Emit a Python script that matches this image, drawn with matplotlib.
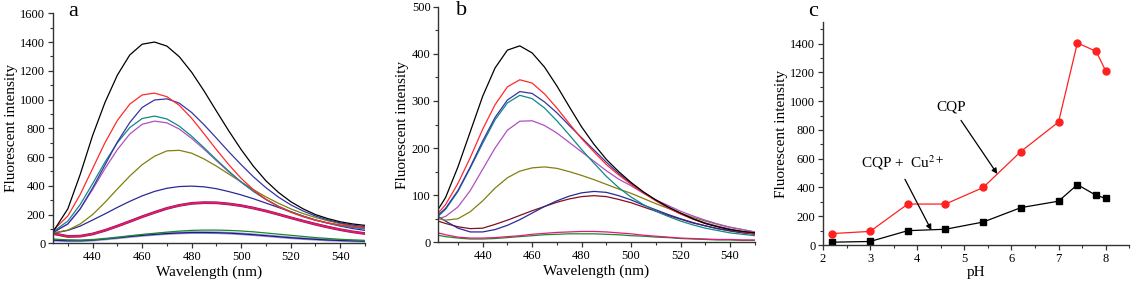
import numpy as np
import matplotlib
matplotlib.use('Agg')
import matplotlib.pyplot as plt
from matplotlib.ticker import MultipleLocator

plt.rcParams['font.family'] = ['Liberation Serif', 'DejaVu Serif']
plt.rcParams['mathtext.fontset'] = 'stix'

# ---- panel a: emission spectra of CQP at different pH
wl_a = [424] + list(range(430, 551, 5))
a_black = [80, 240, 480, 750, 980, 1170, 1310, 1385, 1400, 1372, 1298, 1190, 1060, 920, 782, 652, 535, 435, 355, 290, 240, 200, 172, 150, 135, 125]
a_red = [90, 190, 340, 520, 700, 855, 968, 1032, 1045, 1020, 960, 870, 762, 652, 547, 452, 372, 306, 256, 216, 185, 160, 142, 128, 118, 110]
a_blue = [75, 135, 240, 385, 545, 705, 840, 945, 997, 1005, 975, 910, 825, 732, 637, 547, 462, 387, 322, 268, 225, 190, 163, 142, 127, 115]
a_teal = [80, 155, 270, 415, 565, 700, 805, 868, 885, 865, 815, 745, 665, 582, 502, 427, 362, 306, 258, 220, 188, 162, 142, 125, 112, 102]
a_magenta = [75, 135, 240, 375, 520, 652, 760, 828, 850, 838, 795, 730, 655, 575, 497, 425, 360, 305, 258, 220, 188, 162, 141, 124, 110, 100]
a_olive = [72, 92, 135, 200, 285, 378, 468, 547, 606, 643, 647, 627, 587, 537, 482, 427, 373, 323, 279, 240, 207, 180, 157, 137, 120, 105]
a_blue2 = [70, 90, 120, 162, 205, 250, 292, 330, 361, 383, 395, 398, 393, 380, 360, 337, 310, 280, 250, 220, 190, 163, 140, 120, 103, 90]
a_pink = [68, 48, 50, 65, 90, 120, 152, 185, 215, 243, 264, 278, 283, 282, 274, 262, 245, 225, 202, 178, 155, 133, 113, 95, 80, 68]
a_green = [30, 24, 22, 25, 32, 42, 52, 62, 70, 78, 85, 90, 92, 92, 90, 86, 80, 72, 64, 56, 48, 40, 34, 28, 24, 20]
a_navy = [22, 18, 18, 22, 30, 38, 47, 55, 62, 68, 72, 75, 75, 74, 71, 66, 60, 53, 46, 39, 33, 28, 23, 20, 17, 15]

# ---- panel b: emission spectra of CQP + Cu2+ at different pH
wl_b = [422] + list(range(425, 551, 5))
b_black = [70, 95, 160, 235, 310, 370, 408, 417, 402, 372, 332, 288, 245, 208, 176, 150, 127, 107, 90, 75, 62, 50, 40, 33, 27, 23, 20]
b_red = [62, 80, 125, 180, 240, 292, 330, 345, 338, 315, 285, 252, 220, 192, 165, 143, 123, 105, 88, 73, 60, 49, 40, 33, 27, 22, 18]
b_blue = [58, 72, 110, 160, 215, 265, 302, 320, 316, 298, 275, 248, 222, 196, 170, 146, 125, 106, 89, 74, 61, 50, 41, 34, 28, 23, 20]
b_teal = [55, 70, 108, 158, 210, 260, 296, 312, 305, 285, 258, 228, 197, 168, 140, 116, 96, 80, 66, 55, 45, 37, 30, 25, 20, 17, 14]
b_magenta = [50, 55, 75, 110, 155, 200, 238, 257, 258, 248, 232, 212, 192, 172, 152, 134, 120, 104, 90, 78, 66, 56, 47, 39, 32, 27, 22]
b_olive = [50, 47, 50, 65, 88, 115, 137, 151, 158, 160, 157, 150, 142, 133, 123, 113, 104, 93, 82, 72, 62, 53, 45, 38, 32, 27, 22]
b_blue2 = [55, 45, 30, 22, 22, 27, 36, 48, 62, 76, 88, 98, 105, 108, 106, 99, 90, 79, 69, 59, 50, 42, 35, 29, 25, 21, 18]
b_darkred = [45, 40, 33, 29, 30, 38, 47, 57, 67, 76, 85, 92, 97, 99, 97, 91, 84, 75, 66, 57, 49, 41, 35, 29, 24, 20, 17]
b_pink = [20, 16, 11, 9, 9, 10, 12, 14, 17, 19, 21, 22, 23, 23, 22, 20, 18, 15, 13, 11, 9, 8, 7, 6, 6, 5, 5]
b_green = [15, 12, 9, 7, 7, 8, 10, 12, 14, 16, 17, 18, 18, 18, 17, 16, 14, 13, 11, 10, 8, 7, 6, 5, 5, 4, 4]

# ---- panel c: intensity vs pH
ph = [2.2, 3.0, 3.8, 4.6, 5.4, 6.2, 7.0, 7.4, 7.8, 8.0]
cqp = [80, 95, 285, 285, 400, 650, 855, 1405, 1345, 1210]
cqp_cu = [20, 25, 100, 110, 160, 260, 305, 420, 345, 325]

fig = plt.figure(figsize=(11.47, 2.89), dpi=100)
ax_a = fig.add_axes([0.0462, 0.158, 0.272, 0.796])
ax_b = fig.add_axes([0.382, 0.1616, 0.276, 0.815])
ax_c = fig.add_axes([0.7175, 0.152, 0.267, 0.772])

lw = 0.9
# faint halos under the doubled curves
ax_a.plot(wl_a, a_navy, color='#a098dc', lw=2.0)
ax_a.plot(wl_a, a_pink, color='#8a1840', lw=2.0)
ax_a.plot(wl_a, a_navy, color='#1c1c80', lw=lw)
ax_a.plot(wl_a, a_green, color='#1a8a2a', lw=lw)
ax_a.plot(wl_a, a_pink, color='#e8187a', lw=1.2)
ax_a.plot(wl_a, a_blue2, color='#2a2a9a', lw=lw)
ax_a.plot(wl_a, a_olive, color='#808010', lw=lw)
ax_a.plot(wl_a, a_magenta, color='#b050c0', lw=lw)
ax_a.plot(wl_a, a_teal, color='#108888', lw=lw)
ax_a.plot(wl_a, a_blue, color='#3535a5', lw=lw)
ax_a.plot(wl_a, a_red, color='#ff2a2a', lw=lw)
ax_a.plot(wl_a, a_black, color='black', lw=lw)

ax_b.plot(wl_b, b_green, color='#1a8a2a', lw=lw)
ax_b.plot(wl_b, b_pink, color='#e8187a', lw=lw)
ax_b.plot(wl_b, b_darkred, color='#801020', lw=lw)
ax_b.plot(wl_b, b_blue2, color='#2a2a9a', lw=lw)
ax_b.plot(wl_b, b_olive, color='#808010', lw=lw)
ax_b.plot(wl_b, b_magenta, color='#b050c0', lw=lw)
ax_b.plot(wl_b, b_teal, color='#108888', lw=lw)
ax_b.plot(wl_b, b_blue, color='#3535a5', lw=lw)
ax_b.plot(wl_b, b_red, color='#ff2a2a', lw=lw)
ax_b.plot(wl_b, b_black, color='black', lw=lw)

ax_c.plot(ph, cqp, color='#ff2020', lw=lw, marker='o', ms=5)
ax_c.plot(ph, cqp_cu, color='black', lw=lw, marker='s', ms=4.5)

arrow = dict(arrowstyle='-|>', color='black', lw=0.9, mutation_scale=8, shrinkA=0, shrinkB=0)
ax_c.annotate('', xy=(5.70, 494), xytext=(4.93, 866), arrowprops=arrow)
ax_c.annotate('', xy=(4.30, 104), xytext=(3.74, 457), arrowprops=arrow)
ax_c.text(4.4, 960, 'CQP', fontsize=11, ha='left', va='center')
ax_c.text(2.8, 569, 'CQP +  Cu$^{2+}$', fontsize=11, ha='left', va='center')

for ax in (ax_a, ax_b, ax_c):
    ax.spines['top'].set_visible(False)
    ax.spines['right'].set_visible(False)
    for s in ('left', 'bottom'):
        ax.spines[s].set_linewidth(1.0)
        ax.spines[s].set_color('#333333')
    ax.tick_params(which='major', direction='out', length=3.5, width=0.9,
                   labelsize=9, pad=2, color='#333333')
    ax.tick_params(which='minor', direction='out', length=2, width=0.8, color='#333333')
    ax.set_ylabel('Fluorescent intensity', fontsize=11, labelpad=2)

ax_a.set_xlim(424, 550)
ax_a.set_ylim(0, 1600)
ax_a.xaxis.set_major_locator(MultipleLocator(20))
ax_a.xaxis.set_minor_locator(MultipleLocator(10))
ax_a.yaxis.set_major_locator(MultipleLocator(200))
ax_a.yaxis.set_minor_locator(MultipleLocator(100))
ax_a.set_xlabel('Wavelength (nm)', fontsize=11, labelpad=2)

ax_b.set_xlim(422, 550)
ax_b.set_ylim(0, 500)
ax_b.xaxis.set_major_locator(MultipleLocator(20))
ax_b.xaxis.set_minor_locator(MultipleLocator(10))
ax_b.yaxis.set_major_locator(MultipleLocator(100))
ax_b.yaxis.set_minor_locator(MultipleLocator(50))
ax_b.set_xlabel('Wavelength (nm)', fontsize=11, labelpad=2)

ax_c.set_xlim(2, 8.5)
ax_c.set_ylim(0, 1550)
ax_c.xaxis.set_major_locator(MultipleLocator(1))
ax_c.xaxis.set_minor_locator(MultipleLocator(0.5))
ax_c.set_yticks(range(0, 1401, 200))
ax_c.yaxis.set_minor_locator(MultipleLocator(100))
ax_c.set_xlabel('pH', fontsize=11, labelpad=1)

fig.text(73 / 1147, 1 - 16 / 289, 'a', fontsize=16, ha='center', va='baseline')
fig.text(462 / 1147, 1 - 15 / 289, 'b', fontsize=16, ha='center', va='baseline')
fig.text(813 / 1147, 1 - 16 / 289, 'c', fontsize=16, ha='center', va='baseline')

fig.savefig('out.png', dpi=100)
